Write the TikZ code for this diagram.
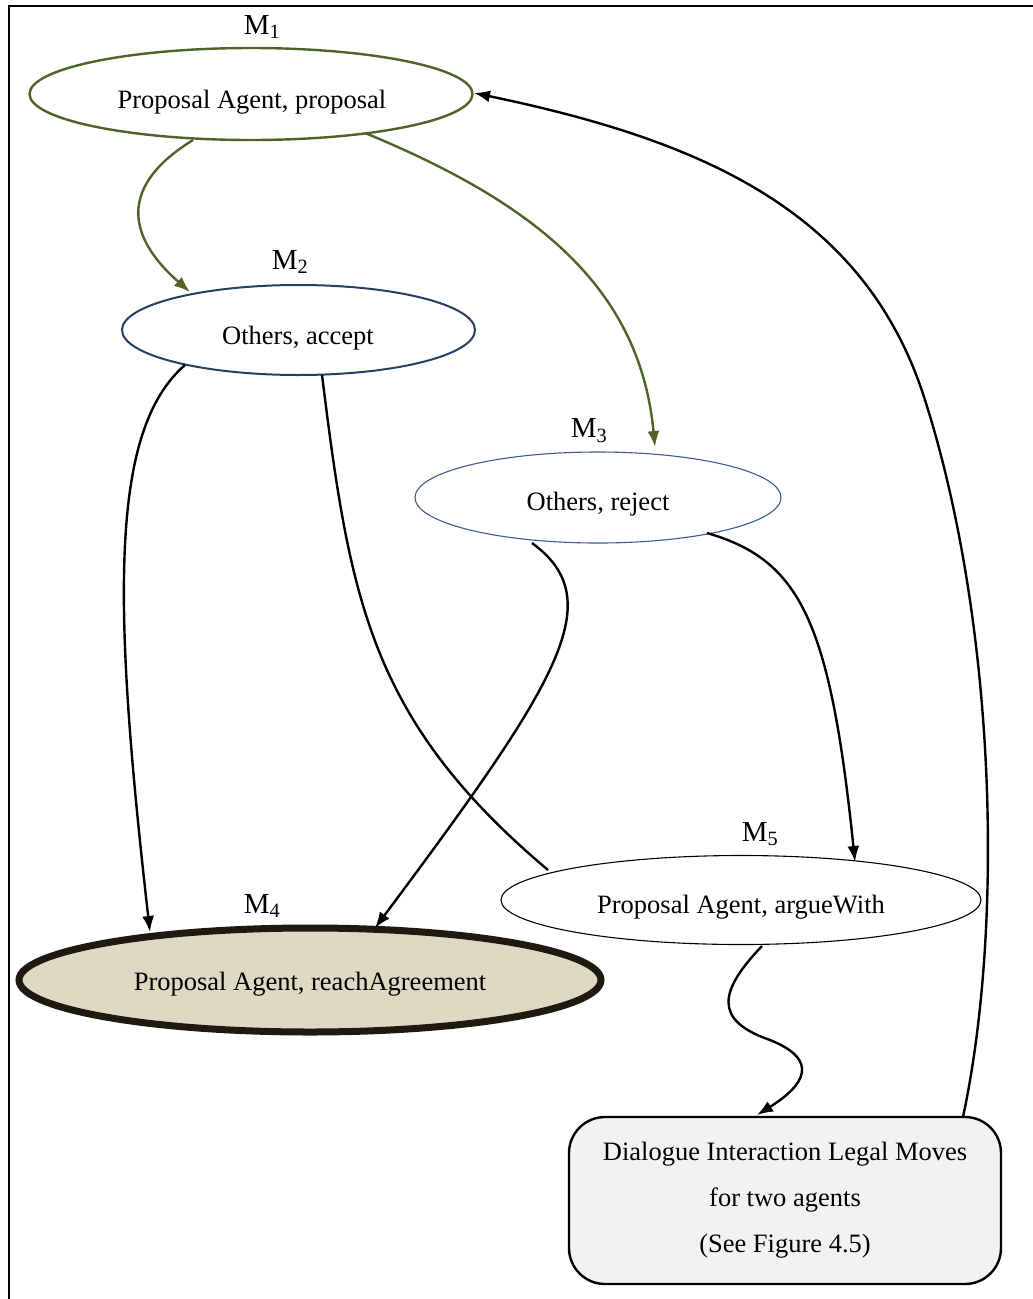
\documentclass[tikz,border=0pt]{standalone}
\usepackage{fontspec}
\setmainfont{Liberation Serif}
\usetikzlibrary{shapes.geometric,arrows.meta}
\definecolor{olivec}{HTML}{4F6228}
\definecolor{navyc}{HTML}{243F60}
\definecolor{bluec}{HTML}{385D8A}
\definecolor{tanfill}{HTML}{DDD9C3}
\definecolor{tandraw}{HTML}{1D1B11}
\definecolor{boxfill}{HTML}{F2F2F2}
\begin{document}
\begin{tikzpicture}[x=1pt,y=-1pt,
  txt/.style={font=\fontsize{26.5}{30}\selectfont, inner sep=0pt},
  mlab/.style={font=\fontsize{29}{32}\selectfont, inner sep=0pt},
  ell/.style={ellipse, inner sep=0pt},
  arr/.style={-{Latex[length=16pt,width=12pt]}},
  conn/.style={line width=2.4pt}
]
\useasboundingbox (0,0) rectangle (1033,1299);
% frame
\coordinate (ftr) at (1033,6);
\coordinate (ftl) at (9,6);
\coordinate (fbl) at (9,1299);
\draw[line width=2.6pt] (ftr) -- (ftl) -- (fbl);

% nodes
\node[ell, draw=olivec, line width=2.4pt, minimum width=443pt, minimum height=92pt] (m1) at (251,94) {};
\node[txt] (t1) at (252,102) {Proposal Agent, proposal};
\node[mlab] (l1) at (262,27) {M\textsubscript{1}};

\node[ell, draw=navyc, line width=2pt, minimum width=353pt, minimum height=90pt] (m2) at (298.5,330) {};
\node[txt] (t2) at (298,338) {Others, accept};
\node[mlab] (l2) at (290,262) {M\textsubscript{2}};

\node[ell, draw=bluec, line width=1.1pt, minimum width=366pt, minimum height=91pt] (m3) at (598,497.5) {};
\node[txt] (t3) at (598,504) {Others, reject};
\node[mlab] (l3) at (589,431) {M\textsubscript{3}};

\node[ell, draw=tandraw, fill=tanfill, line width=7pt, minimum width=582pt, minimum height=104pt] (m4) at (310,980) {};
\node[txt] (t4) at (310,984) {Proposal Agent, reachAgreement};
\node[mlab] (l4) at (262,906) {M\textsubscript{4}};

\node[ell, draw=black, line width=1.1pt, minimum width=480pt, minimum height=89pt] (m5) at (741,900) {};
\node[txt] (t5) at (741,907) {Proposal Agent, argueWith};
\node[mlab] (l5) at (760,834) {M\textsubscript{5}};

\node[draw=black, fill=boxfill, line width=2.4pt, rounded corners=36pt, minimum width=432pt, minimum height=167pt] (box) at (785,1200.5) {};
\node[txt, align=center, font=\fontsize{26.5}{46}\selectfont] (tb) at (785,1200) {Dialogue Interaction Legal Moves\\for two agents\\(See Figure 4.5)};

% connectors
\coordinate (a1) at (193,140);
\coordinate (a2) at (190,292);
\draw[conn, olivec, arr] (a1) .. controls (120,185) and (125,235) .. (a2);

\coordinate (b1) at (365,133);
\coordinate (b2) at (655,447);
\draw[conn, olivec, arr] (b1) .. controls (540,205) and (640,290) .. (b2);

\coordinate (c1) at (185,365);
\coordinate (c2) at (150,932);
\draw[conn, arr] (c1) .. controls (110,430) and (112,600) .. (c2);

\coordinate (d1) at (322,375);
\coordinate (d2) at (548,870);
\draw[conn] (d1) .. controls (350,600) and (370,720) .. (d2);

\coordinate (e1) at (532,543);
\coordinate (e2) at (375,928);
\draw[conn, arr] (e1) .. controls (610,600) and (560,680) .. (e2);

\coordinate (f1) at (707,533);
\coordinate (f2) at (855,862);
\draw[conn, arr] (f1) .. controls (800,560) and (830,620) .. (f2);

\coordinate (g1) at (762,946);
\coordinate (gm) at (770,1040);
\coordinate (g2) at (757,1115);
\draw[conn, arr] (g1) .. controls (720,990) and (712,1020) .. (gm) .. controls (820,1060) and (805,1085) .. (g2);

\coordinate (h1) at (963,1117);
\coordinate (hm) at (925,400);
\coordinate (h2) at (474,93);
\draw[conn, arr] (h1) .. controls (1005,920) and (995,620) .. (hm) .. controls (865,210) and (700,140) .. (h2);
\end{tikzpicture}
\end{document}
